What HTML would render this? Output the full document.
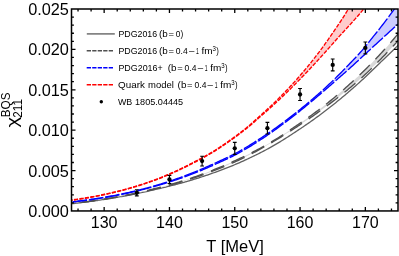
<!DOCTYPE html>
<html><head><meta charset="utf-8"><title>chart</title>
<style>html,body{margin:0;padding:0;background:#fff;}svg{display:block;will-change:transform;opacity:0.999;}text{font-family:"Liberation Sans",sans-serif;fill:#000;}</style></head><body>
<svg width="399" height="256" viewBox="0 0 399 256">
<rect x="0" y="0" width="399" height="256" fill="#fff"/>
<defs><clipPath id="cp"><rect x="71.50" y="9.00" width="326.50" height="201.95"/></clipPath></defs>
<g clip-path="url(#cp)" fill="none" stroke-linecap="butt" stroke-linejoin="round">
<path d="M68.54 204.10 L69.84 203.96 L71.13 203.81 L72.43 203.67 L73.73 203.52 L75.02 203.37 L76.32 203.22 L77.62 203.06 L78.92 202.91 L80.21 202.75 L81.51 202.59 L82.81 202.42 L84.10 202.26 L85.40 202.09 L86.70 201.92 L88.00 201.75 L89.29 201.58 L90.59 201.40 L91.89 201.23 L93.19 201.05 L94.48 200.86 L95.78 200.68 L97.08 200.49 L98.37 200.30 L99.67 200.11 L100.97 199.92 L102.27 199.72 L103.56 199.52 L104.86 199.32 L106.16 199.12 L107.46 198.91 L108.75 198.71 L110.05 198.50 L111.35 198.28 L112.64 198.07 L113.94 197.85 L115.24 197.63 L116.54 197.41 L117.83 197.18 L119.13 196.95 L120.43 196.72 L121.72 196.49 L123.02 196.25 L124.32 196.01 L125.62 195.77 L126.91 195.53 L128.21 195.28 L129.51 195.03 L130.81 194.78 L132.10 194.53 L133.40 194.27 L134.70 194.01 L135.99 193.75 L137.29 193.48 L138.59 193.21 L139.89 192.94 L141.18 192.67 L142.48 192.39 L143.78 192.11 L145.08 191.83 L146.37 191.54 L147.67 191.26 L148.97 190.97 L150.26 190.67 L151.56 190.37 L152.86 190.08 L154.16 189.78 L155.45 189.48 L156.75 189.18 L158.05 188.88 L159.35 188.57 L160.64 188.27 L161.94 187.96 L163.24 187.65 L164.53 187.34 L165.83 187.02 L167.13 186.71 L168.43 186.39 L169.72 186.07 L171.02 185.74 L172.32 185.41 L173.61 185.08 L174.91 184.75 L176.21 184.41 L177.51 184.06 L178.80 183.72 L180.10 183.37 L181.40 183.02 L182.70 182.66 L183.99 182.30 L185.29 181.93 L186.59 181.56 L187.88 181.18 L189.18 180.80 L190.48 180.41 L191.78 180.02 L193.07 179.63 L194.37 179.23 L195.67 178.83 L196.97 178.42 L198.26 178.01 L199.56 177.59 L200.86 177.17 L202.15 176.75 L203.45 176.32 L204.75 175.89 L206.05 175.45 L207.34 175.01 L208.64 174.56 L209.94 174.11 L211.23 173.66 L212.53 173.20 L213.83 172.74 L215.13 172.28 L216.42 171.81 L217.72 171.33 L219.02 170.86 L220.32 170.38 L221.61 169.89 L222.91 169.40 L224.21 168.91 L225.50 168.41 L226.80 167.91 L228.10 167.40 L229.40 166.89 L230.69 166.37 L231.99 165.84 L233.29 165.31 L234.59 164.77 L235.88 164.22 L237.18 163.67 L238.48 163.11 L239.77 162.54 L241.07 161.96 L242.37 161.38 L243.67 160.79 L244.96 160.19 L246.26 159.60 L247.56 158.99 L248.85 158.38 L250.15 157.77 L251.45 157.15 L252.75 156.52 L254.04 155.89 L255.34 155.26 L256.64 154.62 L257.94 153.97 L259.23 153.32 L260.53 152.66 L261.83 151.99 L263.12 151.32 L264.42 150.65 L265.72 149.96 L267.02 149.28 L268.31 148.58 L269.61 147.87 L270.91 147.15 L272.21 146.42 L273.50 145.68 L274.80 144.93 L276.10 144.17 L277.39 143.39 L278.69 142.61 L279.99 141.83 L281.29 141.03 L282.58 140.23 L283.88 139.42 L285.18 138.60 L286.47 137.78 L287.77 136.95 L289.07 136.11 L290.37 135.27 L291.66 134.43 L292.96 133.58 L294.26 132.72 L295.56 131.87 L296.85 131.01 L298.15 130.15 L299.45 129.29 L300.74 128.42 L302.04 127.55 L303.34 126.67 L304.64 125.79 L305.93 124.90 L307.23 124.01 L308.53 123.11 L309.83 122.20 L311.12 121.29 L312.42 120.37 L313.72 119.44 L315.01 118.51 L316.31 117.57 L317.61 116.63 L318.91 115.67 L320.20 114.71 L321.50 113.75 L322.80 112.77 L324.09 111.79 L325.39 110.81 L326.69 109.81 L327.99 108.81 L329.28 107.80 L330.58 106.78 L331.88 105.76 L333.18 104.73 L334.47 103.69 L335.77 102.65 L337.07 101.60 L338.36 100.54 L339.66 99.48 L340.96 98.41 L342.26 97.33 L343.55 96.25 L344.85 95.15 L346.15 94.06 L347.45 92.95 L348.74 91.84 L350.04 90.72 L351.34 89.60 L352.63 88.47 L353.93 87.33 L355.23 86.19 L356.53 85.03 L357.82 83.88 L359.12 82.71 L360.42 81.54 L361.71 80.35 L363.01 79.16 L364.31 77.95 L365.61 76.73 L366.90 75.50 L368.20 74.26 L369.50 73.02 L370.80 71.76 L372.09 70.51 L373.39 69.25 L374.69 67.98 L375.98 66.72 L377.28 65.45 L378.58 64.19 L379.88 62.92 L381.17 61.66 L382.47 60.41 L383.77 59.16 L385.07 57.91 L386.36 56.67 L387.66 55.42 L388.96 54.17 L390.25 52.92 L391.55 51.67 L392.85 50.41 L394.15 49.15 L395.44 47.89 L396.74 46.63 L398.04 45.36 L399.34 44.10 L400.63 42.83 L401.93 41.56 L403.23 40.30 L404.52 39.03" stroke="#606060" stroke-width="1.3"/>
<path d="M68.54 203.82 L69.84 203.68 L71.13 203.54 L72.43 203.39 L73.73 203.25 L75.02 203.10 L76.32 202.95 L77.62 202.79 L78.92 202.64 L80.21 202.48 L81.51 202.32 L82.81 202.16 L84.10 201.99 L85.40 201.82 L86.70 201.65 L88.00 201.48 L89.29 201.31 L90.59 201.13 L91.89 200.95 L93.19 200.76 L94.48 200.58 L95.78 200.39 L97.08 200.20 L98.37 200.01 L99.67 199.81 L100.97 199.61 L102.27 199.41 L103.56 199.20 L104.86 199.00 L106.16 198.78 L107.46 198.57 L108.75 198.36 L110.05 198.14 L111.35 197.91 L112.64 197.69 L113.94 197.46 L115.24 197.23 L116.54 197.00 L117.83 196.76 L119.13 196.52 L120.43 196.27 L121.72 196.03 L123.02 195.78 L124.32 195.52 L125.62 195.27 L126.91 195.01 L128.21 194.75 L129.51 194.48 L130.81 194.21 L132.10 193.94 L133.40 193.66 L134.70 193.38 L135.99 193.10 L137.29 192.81 L138.59 192.52 L139.89 192.23 L141.18 191.93 L142.48 191.63 L143.78 191.33 L145.08 191.02 L146.37 190.71 L147.67 190.40 L148.97 190.08 L150.26 189.75 L151.56 189.43 L152.86 189.10 L154.16 188.78 L155.45 188.45 L156.75 188.12 L158.05 187.78 L159.35 187.45 L160.64 187.11 L161.94 186.77 L163.24 186.42 L164.53 186.08 L165.83 185.73 L167.13 185.37 L168.43 185.02 L169.72 184.66 L171.02 184.29 L172.32 183.93 L173.61 183.56 L174.91 183.18 L176.21 182.80 L177.51 182.42 L178.80 182.03 L180.10 181.64 L181.40 181.24 L182.70 180.84 L183.99 180.44 L185.29 180.02 L186.59 179.61 L187.88 179.19 L189.18 178.76 L190.48 178.33 L191.78 177.89 L193.07 177.45 L194.37 177.00 L195.67 176.55 L196.97 176.09 L198.26 175.63 L199.56 175.17 L200.86 174.70 L202.15 174.22 L203.45 173.74 L204.75 173.26 L206.05 172.77 L207.34 172.28 L208.64 171.78 L209.94 171.28 L211.23 170.78 L212.53 170.27 L213.83 169.75 L215.13 169.23 L216.42 168.71 L217.72 168.18 L219.02 167.65 L220.32 167.11 L221.61 166.57 L222.91 166.02 L224.21 165.47 L225.50 164.92 L226.80 164.36 L228.10 163.79 L229.40 163.22 L230.69 162.65 L231.99 162.07 L233.29 161.48 L234.59 160.89 L235.88 160.30 L237.18 159.70 L238.48 159.09 L239.77 158.48 L241.07 157.86 L242.37 157.24 L243.67 156.62 L244.96 155.99 L246.26 155.36 L247.56 154.72 L248.85 154.08 L250.15 153.43 L251.45 152.78 L252.75 152.12 L254.04 151.45 L255.34 150.78 L256.64 150.11 L257.94 149.42 L259.23 148.74 L260.53 148.04 L261.83 147.34 L263.12 146.63 L264.42 145.92 L265.72 145.19 L267.02 144.46 L268.31 143.73 L269.61 142.98 L270.91 142.21 L272.21 141.44 L273.50 140.66 L274.80 139.87 L276.10 139.07 L277.39 138.26 L278.69 137.45 L279.99 136.62 L281.29 135.79 L282.58 134.95 L283.88 134.11 L285.18 133.26 L286.47 132.40 L287.77 131.54 L289.07 130.68 L290.37 129.81 L291.66 128.93 L292.96 128.05 L294.26 127.17 L295.56 126.29 L296.85 125.40 L298.15 124.52 L299.45 123.63 L300.74 122.74 L302.04 121.84 L303.34 120.95 L304.64 120.04 L305.93 119.13 L307.23 118.21 L308.53 117.29 L309.83 116.37 L311.12 115.43 L312.42 114.49 L313.72 113.55 L315.01 112.60 L316.31 111.64 L317.61 110.67 L318.91 109.70 L320.20 108.72 L321.50 107.73 L322.80 106.74 L324.09 105.74 L325.39 104.73 L326.69 103.71 L327.99 102.69 L329.28 101.65 L330.58 100.61 L331.88 99.56 L333.18 98.50 L334.47 97.43 L335.77 96.35 L337.07 95.25 L338.36 94.15 L339.66 93.04 L340.96 91.92 L342.26 90.80 L343.55 89.66 L344.85 88.52 L346.15 87.36 L347.45 86.20 L348.74 85.03 L350.04 83.86 L351.34 82.67 L352.63 81.48 L353.93 80.28 L355.23 79.08 L356.53 77.87 L357.82 76.65 L359.12 75.43 L360.42 74.20 L361.71 72.96 L363.01 71.71 L364.31 70.45 L365.61 69.18 L366.90 67.90 L368.20 66.61 L369.50 65.31 L370.80 64.00 L372.09 62.68 L373.39 61.35 L374.69 60.01 L375.98 58.66 L377.28 57.30 L378.58 55.92 L379.88 54.53 L381.17 53.14 L382.47 51.73 L383.77 50.30 L385.07 48.87 L386.36 47.42 L387.66 45.97 L388.96 44.49 L390.25 43.01 L391.55 41.51 L392.85 40.00 L394.15 38.48 L395.44 36.94 L396.74 35.39 L398.04 33.82 L399.34 32.24 L400.63 30.64 L401.93 29.03 L403.23 27.40 L404.52 25.76 L404.52 33.22 L403.23 34.74 L401.93 36.25 L400.63 37.74 L399.34 39.22 L398.04 40.69 L396.74 42.14 L395.44 43.58 L394.15 45.01 L392.85 46.42 L391.55 47.83 L390.25 49.22 L388.96 50.59 L387.66 51.96 L386.36 53.31 L385.07 54.66 L383.77 55.99 L382.47 57.32 L381.17 58.66 L379.88 59.98 L378.58 61.31 L377.28 62.63 L375.98 63.94 L374.69 65.24 L373.39 66.54 L372.09 67.83 L370.80 69.11 L369.50 70.37 L368.20 71.63 L366.90 72.87 L365.61 74.10 L364.31 75.31 L363.01 76.51 L361.71 77.69 L360.42 78.85 L359.12 80.00 L357.82 81.14 L356.53 82.26 L355.23 83.38 L353.93 84.49 L352.63 85.59 L351.34 86.68 L350.04 87.76 L348.74 88.83 L347.45 89.90 L346.15 90.96 L344.85 92.01 L343.55 93.05 L342.26 94.09 L340.96 95.12 L339.66 96.14 L338.36 97.16 L337.07 98.17 L335.77 99.17 L334.47 100.17 L333.18 101.16 L331.88 102.15 L330.58 103.13 L329.28 104.11 L327.99 105.08 L326.69 106.05 L325.39 107.01 L324.09 107.97 L322.80 108.92 L321.50 109.87 L320.20 110.81 L318.91 111.74 L317.61 112.67 L316.31 113.60 L315.01 114.52 L313.72 115.43 L312.42 116.34 L311.12 117.25 L309.83 118.14 L308.53 119.04 L307.23 119.93 L305.93 120.81 L304.64 121.69 L303.34 122.56 L302.04 123.42 L300.74 124.29 L299.45 125.14 L298.15 126.00 L296.85 126.85 L295.56 127.70 L294.26 128.54 L292.96 129.39 L291.66 130.23 L290.37 131.06 L289.07 131.90 L287.77 132.72 L286.47 133.55 L285.18 134.37 L283.88 135.19 L282.58 136.00 L281.29 136.81 L279.99 137.61 L278.69 138.41 L277.39 139.20 L276.10 139.99 L274.80 140.77 L273.50 141.54 L272.21 142.31 L270.91 143.07 L269.61 143.83 L268.31 144.58 L267.02 145.32 L265.72 146.05 L264.42 146.79 L263.12 147.51 L261.83 148.24 L260.53 148.96 L259.23 149.67 L257.94 150.38 L256.64 151.09 L255.34 151.79 L254.04 152.48 L252.75 153.17 L251.45 153.85 L250.15 154.53 L248.85 155.20 L247.56 155.86 L246.26 156.51 L244.96 157.16 L243.67 157.80 L242.37 158.43 L241.07 159.06 L239.77 159.67 L238.48 160.28 L237.18 160.88 L235.88 161.47 L234.59 162.06 L233.29 162.64 L231.99 163.21 L230.69 163.78 L229.40 164.34 L228.10 164.89 L226.80 165.44 L225.50 165.99 L224.21 166.53 L222.91 167.06 L221.61 167.59 L220.32 168.12 L219.02 168.64 L217.72 169.16 L216.42 169.67 L215.13 170.18 L213.83 170.69 L212.53 171.19 L211.23 171.69 L209.94 172.19 L208.64 172.68 L207.34 173.16 L206.05 173.65 L204.75 174.12 L203.45 174.60 L202.15 175.07 L200.86 175.53 L199.56 175.99 L198.26 176.44 L196.97 176.89 L195.67 177.34 L194.37 177.78 L193.07 178.22 L191.78 178.65 L190.48 179.08 L189.18 179.50 L187.88 179.92 L186.59 180.33 L185.29 180.74 L183.99 181.14 L182.70 181.54 L181.40 181.93 L180.10 182.32 L178.80 182.70 L177.51 183.08 L176.21 183.45 L174.91 183.82 L173.61 184.19 L172.32 184.55 L171.02 184.91 L169.72 185.26 L168.43 185.61 L167.13 185.96 L165.83 186.30 L164.53 186.64 L163.24 186.98 L161.94 187.32 L160.64 187.65 L159.35 187.98 L158.05 188.31 L156.75 188.63 L155.45 188.95 L154.16 189.28 L152.86 189.59 L151.56 189.91 L150.26 190.23 L148.97 190.54 L147.67 190.85 L146.37 191.16 L145.08 191.46 L143.78 191.76 L142.48 192.05 L141.18 192.34 L139.89 192.63 L138.59 192.92 L137.29 193.20 L135.99 193.48 L134.70 193.75 L133.40 194.02 L132.10 194.29 L130.81 194.55 L129.51 194.81 L128.21 195.07 L126.91 195.33 L125.62 195.58 L124.32 195.83 L123.02 196.07 L121.72 196.31 L120.43 196.55 L119.13 196.79 L117.83 197.02 L116.54 197.25 L115.24 197.47 L113.94 197.70 L112.64 197.92 L111.35 198.14 L110.05 198.35 L108.75 198.56 L107.46 198.77 L106.16 198.98 L104.86 199.18 L103.56 199.38 L102.27 199.58 L100.97 199.77 L99.67 199.96 L98.37 200.15 L97.08 200.34 L95.78 200.52 L94.48 200.70 L93.19 200.88 L91.89 201.06 L90.59 201.23 L89.29 201.40 L88.00 201.57 L86.70 201.73 L85.40 201.90 L84.10 202.06 L82.81 202.22 L81.51 202.37 L80.21 202.53 L78.92 202.68 L77.62 202.83 L76.32 202.97 L75.02 203.12 L73.73 203.26 L72.43 203.40 L71.13 203.54 L69.84 203.67 L68.54 203.81 Z" fill="#d9d9d9" stroke="none"/>
<path d="M68.54 203.82 L69.84 203.68 L71.13 203.54 L72.43 203.39 L73.73 203.25 L75.02 203.10 L76.32 202.95 L77.62 202.79 L78.92 202.64 L80.21 202.48 L81.51 202.32 L82.81 202.16 L84.10 201.99 L85.40 201.82 L86.70 201.65 L88.00 201.48 L89.29 201.31 L90.59 201.13 L91.89 200.95 L93.19 200.76 L94.48 200.58 L95.78 200.39 L97.08 200.20 L98.37 200.01 L99.67 199.81 L100.97 199.61 L102.27 199.41 L103.56 199.20 L104.86 199.00 L106.16 198.78 L107.46 198.57 L108.75 198.36 L110.05 198.14 L111.35 197.91 L112.64 197.69 L113.94 197.46 L115.24 197.23 L116.54 197.00 L117.83 196.76 L119.13 196.52 L120.43 196.27 L121.72 196.03 L123.02 195.78 L124.32 195.52 L125.62 195.27 L126.91 195.01 L128.21 194.75 L129.51 194.48 L130.81 194.21 L132.10 193.94 L133.40 193.66 L134.70 193.38 L135.99 193.10 L137.29 192.81 L138.59 192.52 L139.89 192.23 L141.18 191.93 L142.48 191.63 L143.78 191.33 L145.08 191.02 L146.37 190.71 L147.67 190.40 L148.97 190.08 L150.26 189.75 L151.56 189.43 L152.86 189.10 L154.16 188.78 L155.45 188.45 L156.75 188.12 L158.05 187.78 L159.35 187.45 L160.64 187.11 L161.94 186.77 L163.24 186.42 L164.53 186.08 L165.83 185.73 L167.13 185.37 L168.43 185.02 L169.72 184.66 L171.02 184.29 L172.32 183.93 L173.61 183.56 L174.91 183.18 L176.21 182.80 L177.51 182.42 L178.80 182.03 L180.10 181.64 L181.40 181.24 L182.70 180.84 L183.99 180.44 L185.29 180.02 L186.59 179.61 L187.88 179.19 L189.18 178.76 L190.48 178.33 L191.78 177.89 L193.07 177.45 L194.37 177.00 L195.67 176.55 L196.97 176.09 L198.26 175.63 L199.56 175.17 L200.86 174.70 L202.15 174.22 L203.45 173.74 L204.75 173.26 L206.05 172.77 L207.34 172.28 L208.64 171.78 L209.94 171.28 L211.23 170.78 L212.53 170.27 L213.83 169.75 L215.13 169.23 L216.42 168.71 L217.72 168.18 L219.02 167.65 L220.32 167.11 L221.61 166.57 L222.91 166.02 L224.21 165.47 L225.50 164.92 L226.80 164.36 L228.10 163.79 L229.40 163.22 L230.69 162.65 L231.99 162.07 L233.29 161.48 L234.59 160.89 L235.88 160.30 L237.18 159.70 L238.48 159.09 L239.77 158.48 L241.07 157.86 L242.37 157.24 L243.67 156.62 L244.96 155.99 L246.26 155.36 L247.56 154.72 L248.85 154.08 L250.15 153.43 L251.45 152.78 L252.75 152.12 L254.04 151.45 L255.34 150.78 L256.64 150.11 L257.94 149.42 L259.23 148.74 L260.53 148.04 L261.83 147.34 L263.12 146.63 L264.42 145.92 L265.72 145.19 L267.02 144.46 L268.31 143.73 L269.61 142.98 L270.91 142.21 L272.21 141.44 L273.50 140.66 L274.80 139.87 L276.10 139.07 L277.39 138.26 L278.69 137.45 L279.99 136.62 L281.29 135.79 L282.58 134.95 L283.88 134.11 L285.18 133.26 L286.47 132.40 L287.77 131.54 L289.07 130.68 L290.37 129.81 L291.66 128.93 L292.96 128.05 L294.26 127.17 L295.56 126.29 L296.85 125.40 L298.15 124.52 L299.45 123.63 L300.74 122.74 L302.04 121.84 L303.34 120.95 L304.64 120.04 L305.93 119.13 L307.23 118.21 L308.53 117.29 L309.83 116.37 L311.12 115.43 L312.42 114.49 L313.72 113.55 L315.01 112.60 L316.31 111.64 L317.61 110.67 L318.91 109.70 L320.20 108.72 L321.50 107.73 L322.80 106.74 L324.09 105.74 L325.39 104.73 L326.69 103.71 L327.99 102.69 L329.28 101.65 L330.58 100.61 L331.88 99.56 L333.18 98.50 L334.47 97.43 L335.77 96.35 L337.07 95.25 L338.36 94.15 L339.66 93.04 L340.96 91.92 L342.26 90.80 L343.55 89.66 L344.85 88.52 L346.15 87.36 L347.45 86.20 L348.74 85.03 L350.04 83.86 L351.34 82.67 L352.63 81.48 L353.93 80.28 L355.23 79.08 L356.53 77.87 L357.82 76.65 L359.12 75.43 L360.42 74.20 L361.71 72.96 L363.01 71.71 L364.31 70.45 L365.61 69.18 L366.90 67.90 L368.20 66.61 L369.50 65.31 L370.80 64.00 L372.09 62.68 L373.39 61.35 L374.69 60.01 L375.98 58.66 L377.28 57.30 L378.58 55.92 L379.88 54.53 L381.17 53.14 L382.47 51.73 L383.77 50.30 L385.07 48.87 L386.36 47.42 L387.66 45.97 L388.96 44.49 L390.25 43.01 L391.55 41.51 L392.85 40.00 L394.15 38.48 L395.44 36.94 L396.74 35.39 L398.04 33.82 L399.34 32.24 L400.63 30.64 L401.93 29.03 L403.23 27.40 L404.52 25.76" stroke="#505050" stroke-width="1.35" stroke-dasharray="14.2 8.06" stroke-dashoffset="9.26"/>
<path d="M68.54 203.81 L69.84 203.67 L71.13 203.54 L72.43 203.40 L73.73 203.26 L75.02 203.12 L76.32 202.97 L77.62 202.83 L78.92 202.68 L80.21 202.53 L81.51 202.37 L82.81 202.22 L84.10 202.06 L85.40 201.90 L86.70 201.73 L88.00 201.57 L89.29 201.40 L90.59 201.23 L91.89 201.06 L93.19 200.88 L94.48 200.70 L95.78 200.52 L97.08 200.34 L98.37 200.15 L99.67 199.96 L100.97 199.77 L102.27 199.58 L103.56 199.38 L104.86 199.18 L106.16 198.98 L107.46 198.77 L108.75 198.56 L110.05 198.35 L111.35 198.14 L112.64 197.92 L113.94 197.70 L115.24 197.47 L116.54 197.25 L117.83 197.02 L119.13 196.79 L120.43 196.55 L121.72 196.31 L123.02 196.07 L124.32 195.83 L125.62 195.58 L126.91 195.33 L128.21 195.07 L129.51 194.81 L130.81 194.55 L132.10 194.29 L133.40 194.02 L134.70 193.75 L135.99 193.48 L137.29 193.20 L138.59 192.92 L139.89 192.63 L141.18 192.34 L142.48 192.05 L143.78 191.76 L145.08 191.46 L146.37 191.16 L147.67 190.85 L148.97 190.54 L150.26 190.23 L151.56 189.91 L152.86 189.59 L154.16 189.28 L155.45 188.95 L156.75 188.63 L158.05 188.31 L159.35 187.98 L160.64 187.65 L161.94 187.32 L163.24 186.98 L164.53 186.64 L165.83 186.30 L167.13 185.96 L168.43 185.61 L169.72 185.26 L171.02 184.91 L172.32 184.55 L173.61 184.19 L174.91 183.82 L176.21 183.45 L177.51 183.08 L178.80 182.70 L180.10 182.32 L181.40 181.93 L182.70 181.54 L183.99 181.14 L185.29 180.74 L186.59 180.33 L187.88 179.92 L189.18 179.50 L190.48 179.08 L191.78 178.65 L193.07 178.22 L194.37 177.78 L195.67 177.34 L196.97 176.89 L198.26 176.44 L199.56 175.99 L200.86 175.53 L202.15 175.07 L203.45 174.60 L204.75 174.12 L206.05 173.65 L207.34 173.16 L208.64 172.68 L209.94 172.19 L211.23 171.69 L212.53 171.19 L213.83 170.69 L215.13 170.18 L216.42 169.67 L217.72 169.16 L219.02 168.64 L220.32 168.12 L221.61 167.59 L222.91 167.06 L224.21 166.53 L225.50 165.99 L226.80 165.44 L228.10 164.89 L229.40 164.34 L230.69 163.78 L231.99 163.21 L233.29 162.64 L234.59 162.06 L235.88 161.47 L237.18 160.88 L238.48 160.28 L239.77 159.67 L241.07 159.06 L242.37 158.43 L243.67 157.80 L244.96 157.16 L246.26 156.51 L247.56 155.86 L248.85 155.20 L250.15 154.53 L251.45 153.85 L252.75 153.17 L254.04 152.48 L255.34 151.79 L256.64 151.09 L257.94 150.38 L259.23 149.67 L260.53 148.96 L261.83 148.24 L263.12 147.51 L264.42 146.79 L265.72 146.05 L267.02 145.32 L268.31 144.58 L269.61 143.83 L270.91 143.07 L272.21 142.31 L273.50 141.54 L274.80 140.77 L276.10 139.99 L277.39 139.20 L278.69 138.41 L279.99 137.61 L281.29 136.81 L282.58 136.00 L283.88 135.19 L285.18 134.37 L286.47 133.55 L287.77 132.72 L289.07 131.90 L290.37 131.06 L291.66 130.23 L292.96 129.39 L294.26 128.54 L295.56 127.70 L296.85 126.85 L298.15 126.00 L299.45 125.14 L300.74 124.29 L302.04 123.42 L303.34 122.56 L304.64 121.69 L305.93 120.81 L307.23 119.93 L308.53 119.04 L309.83 118.14 L311.12 117.25 L312.42 116.34 L313.72 115.43 L315.01 114.52 L316.31 113.60 L317.61 112.67 L318.91 111.74 L320.20 110.81 L321.50 109.87 L322.80 108.92 L324.09 107.97 L325.39 107.01 L326.69 106.05 L327.99 105.08 L329.28 104.11 L330.58 103.13 L331.88 102.15 L333.18 101.16 L334.47 100.17 L335.77 99.17 L337.07 98.17 L338.36 97.16 L339.66 96.14 L340.96 95.12 L342.26 94.09 L343.55 93.05 L344.85 92.01 L346.15 90.96 L347.45 89.90 L348.74 88.83 L350.04 87.76 L351.34 86.68 L352.63 85.59 L353.93 84.49 L355.23 83.38 L356.53 82.26 L357.82 81.14 L359.12 80.00 L360.42 78.85 L361.71 77.69 L363.01 76.51 L364.31 75.31 L365.61 74.10 L366.90 72.87 L368.20 71.63 L369.50 70.37 L370.80 69.11 L372.09 67.83 L373.39 66.54 L374.69 65.24 L375.98 63.94 L377.28 62.63 L378.58 61.31 L379.88 59.98 L381.17 58.66 L382.47 57.32 L383.77 55.99 L385.07 54.66 L386.36 53.31 L387.66 51.96 L388.96 50.59 L390.25 49.22 L391.55 47.83 L392.85 46.42 L394.15 45.01 L395.44 43.58 L396.74 42.14 L398.04 40.69 L399.34 39.22 L400.63 37.74 L401.93 36.25 L403.23 34.74 L404.52 33.22" stroke="#505050" stroke-width="1.35" stroke-dasharray="14.2 8.06" stroke-dashoffset="9.26"/>
<path d="M68.54 202.25 L69.84 202.10 L71.13 201.95 L72.43 201.80 L73.73 201.65 L75.02 201.49 L76.32 201.34 L77.62 201.18 L78.92 201.02 L80.21 200.86 L81.51 200.69 L82.81 200.52 L84.10 200.35 L85.40 200.17 L86.70 200.00 L88.00 199.81 L89.29 199.63 L90.59 199.44 L91.89 199.26 L93.19 199.06 L94.48 198.87 L95.78 198.67 L97.08 198.47 L98.37 198.26 L99.67 198.05 L100.97 197.84 L102.27 197.63 L103.56 197.41 L104.86 197.19 L106.16 196.96 L107.46 196.74 L108.75 196.50 L110.05 196.27 L111.35 196.03 L112.64 195.79 L113.94 195.54 L115.24 195.29 L116.54 195.04 L117.83 194.78 L119.13 194.52 L120.43 194.26 L121.72 193.99 L123.02 193.72 L124.32 193.44 L125.62 193.16 L126.91 192.88 L128.21 192.59 L129.51 192.30 L130.81 192.00 L132.10 191.70 L133.40 191.40 L134.70 191.09 L135.99 190.78 L137.29 190.47 L138.59 190.15 L139.89 189.82 L141.18 189.49 L142.48 189.16 L143.78 188.83 L145.08 188.48 L146.37 188.14 L147.67 187.79 L148.97 187.44 L150.26 187.08 L151.56 186.71 L152.86 186.35 L154.16 185.98 L155.45 185.60 L156.75 185.22 L158.05 184.83 L159.35 184.44 L160.64 184.05 L161.94 183.65 L163.24 183.25 L164.53 182.84 L165.83 182.43 L167.13 182.01 L168.43 181.59 L169.72 181.16 L171.02 180.73 L172.32 180.29 L173.61 179.85 L174.91 179.40 L176.21 178.95 L177.51 178.49 L178.80 178.03 L180.10 177.57 L181.40 177.09 L182.70 176.62 L183.99 176.14 L185.29 175.65 L186.59 175.16 L187.88 174.66 L189.18 174.16 L190.48 173.65 L191.78 173.14 L193.07 172.62 L194.37 172.10 L195.67 171.57 L196.97 171.04 L198.26 170.51 L199.56 169.97 L200.86 169.42 L202.15 168.87 L203.45 168.32 L204.75 167.76 L206.05 167.19 L207.34 166.62 L208.64 166.05 L209.94 165.47 L211.23 164.89 L212.53 164.30 L213.83 163.70 L215.13 163.10 L216.42 162.51 L217.72 161.91 L219.02 161.31 L220.32 160.72 L221.61 160.13 L222.91 159.53 L224.21 158.93 L225.50 158.32 L226.80 157.71 L228.10 157.10 L229.40 156.47 L230.69 155.84 L231.99 155.20 L233.29 154.54 L234.59 153.88 L235.88 153.20 L237.18 152.50 L238.48 151.79 L239.77 151.06 L241.07 150.32 L242.37 149.57 L243.67 148.82 L244.96 148.05 L246.26 147.28 L247.56 146.50 L248.85 145.71 L250.15 144.92 L251.45 144.12 L252.75 143.31 L254.04 142.50 L255.34 141.67 L256.64 140.85 L257.94 140.01 L259.23 139.17 L260.53 138.33 L261.83 137.47 L263.12 136.61 L264.42 135.75 L265.72 134.88 L267.02 134.00 L268.31 133.12 L269.61 132.23 L270.91 131.34 L272.21 130.43 L273.50 129.53 L274.80 128.61 L276.10 127.69 L277.39 126.76 L278.69 125.83 L279.99 124.88 L281.29 123.94 L282.58 122.98 L283.88 122.02 L285.18 121.06 L286.47 120.08 L287.77 119.10 L289.07 118.12 L290.37 117.13 L291.66 116.13 L292.96 115.12 L294.26 114.11 L295.56 113.09 L296.85 112.07 L298.15 111.03 L299.45 109.99 L300.74 108.95 L302.04 107.90 L303.34 106.84 L304.64 105.77 L305.93 104.70 L307.23 103.62 L308.53 102.53 L309.83 101.44 L311.12 100.33 L312.42 99.22 L313.72 98.11 L315.01 96.98 L316.31 95.85 L317.61 94.71 L318.91 93.56 L320.20 92.41 L321.50 91.24 L322.80 90.07 L324.09 88.89 L325.39 87.70 L326.69 86.51 L327.99 85.30 L329.28 84.09 L330.58 82.87 L331.88 81.63 L333.18 80.39 L334.47 79.14 L335.77 77.88 L337.07 76.60 L338.36 75.31 L339.66 74.00 L340.96 72.68 L342.26 71.35 L343.55 70.02 L344.85 68.68 L346.15 67.34 L347.45 66.00 L348.74 64.66 L350.04 63.32 L351.34 61.98 L352.63 60.64 L353.93 59.29 L355.23 57.92 L356.53 56.55 L357.82 55.16 L359.12 53.75 L360.42 52.31 L361.71 50.84 L363.01 49.32 L364.31 47.76 L365.61 46.18 L366.90 44.57 L368.20 42.95 L369.50 41.32 L370.80 39.69 L372.09 38.05 L373.39 36.43 L374.69 34.82 L375.98 33.22 L377.28 31.61 L378.58 29.99 L379.88 28.35 L381.17 26.70 L382.47 25.03 L383.77 23.35 L385.07 21.65 L386.36 19.94 L387.66 18.21 L388.96 16.47 L390.25 14.71 L391.55 12.94 L392.85 11.15 L394.15 9.34 L395.44 7.51 L396.74 5.67 L398.04 3.80 L399.34 1.92 L400.63 0.02 L401.93 -1.90 L403.23 -3.84 L404.52 -5.80 L404.52 18.49 L403.23 19.61 L401.93 20.74 L400.63 21.87 L399.34 23.01 L398.04 24.16 L396.74 25.31 L395.44 26.46 L394.15 27.62 L392.85 28.78 L391.55 29.95 L390.25 31.11 L388.96 32.29 L387.66 33.46 L386.36 34.64 L385.07 35.82 L383.77 37.01 L382.47 38.19 L381.17 39.38 L379.88 40.57 L378.58 41.76 L377.28 42.95 L375.98 44.15 L374.69 45.34 L373.39 46.54 L372.09 47.74 L370.80 48.93 L369.50 50.13 L368.20 51.33 L366.90 52.53 L365.61 53.73 L364.31 54.92 L363.01 56.12 L361.71 57.32 L360.42 58.51 L359.12 59.71 L357.82 60.90 L356.53 62.09 L355.23 63.29 L353.93 64.48 L352.63 65.66 L351.34 66.85 L350.04 68.03 L348.74 69.22 L347.45 70.39 L346.15 71.56 L344.85 72.70 L343.55 73.84 L342.26 74.96 L340.96 76.08 L339.66 77.20 L338.36 78.33 L337.07 79.45 L335.77 80.59 L334.47 81.74 L333.18 82.88 L331.88 84.02 L330.58 85.16 L329.28 86.30 L327.99 87.43 L326.69 88.55 L325.39 89.68 L324.09 90.79 L322.80 91.91 L321.50 93.02 L320.20 94.12 L318.91 95.22 L317.61 96.32 L316.31 97.42 L315.01 98.52 L313.72 99.61 L312.42 100.70 L311.12 101.79 L309.83 102.88 L308.53 103.96 L307.23 105.03 L305.93 106.10 L304.64 107.17 L303.34 108.22 L302.04 109.28 L300.74 110.32 L299.45 111.36 L298.15 112.39 L296.85 113.42 L295.56 114.43 L294.26 115.45 L292.96 116.46 L291.66 117.46 L290.37 118.46 L289.07 119.45 L287.77 120.43 L286.47 121.41 L285.18 122.39 L283.88 123.36 L282.58 124.32 L281.29 125.28 L279.99 126.24 L278.69 127.19 L277.39 128.14 L276.10 129.08 L274.80 130.01 L273.50 130.94 L272.21 131.85 L270.91 132.77 L269.61 133.67 L268.31 134.56 L267.02 135.45 L265.72 136.33 L264.42 137.20 L263.12 138.07 L261.83 138.93 L260.53 139.78 L259.23 140.63 L257.94 141.47 L256.64 142.31 L255.34 143.13 L254.04 143.95 L252.75 144.76 L251.45 145.57 L250.15 146.36 L248.85 147.15 L247.56 147.94 L246.26 148.71 L244.96 149.47 L243.67 150.23 L242.37 150.98 L241.07 151.72 L239.77 152.45 L238.48 153.17 L237.18 153.87 L235.88 154.55 L234.59 155.22 L233.29 155.88 L231.99 156.53 L230.69 157.16 L229.40 157.79 L228.10 158.41 L226.80 159.02 L225.50 159.62 L224.21 160.22 L222.91 160.81 L221.61 161.40 L220.32 161.99 L219.02 162.57 L217.72 163.16 L216.42 163.75 L215.13 164.34 L213.83 164.93 L212.53 165.51 L211.23 166.09 L209.94 166.67 L208.64 167.24 L207.34 167.80 L206.05 168.36 L204.75 168.92 L203.45 169.46 L202.15 170.01 L200.86 170.55 L199.56 171.08 L198.26 171.61 L196.97 172.13 L195.67 172.65 L194.37 173.16 L193.07 173.67 L191.78 174.17 L190.48 174.66 L189.18 175.16 L187.88 175.64 L186.59 176.12 L185.29 176.60 L183.99 177.07 L182.70 177.53 L181.40 177.99 L180.10 178.44 L178.80 178.89 L177.51 179.34 L176.21 179.77 L174.91 180.21 L173.61 180.64 L172.32 181.06 L171.02 181.48 L169.72 181.90 L168.43 182.31 L167.13 182.71 L165.83 183.11 L164.53 183.51 L163.24 183.90 L161.94 184.29 L160.64 184.68 L159.35 185.05 L158.05 185.43 L156.75 185.80 L155.45 186.17 L154.16 186.53 L152.86 186.89 L151.56 187.24 L150.26 187.60 L148.97 187.94 L147.67 188.29 L146.37 188.63 L145.08 188.96 L143.78 189.29 L142.48 189.62 L141.18 189.94 L139.89 190.26 L138.59 190.58 L137.29 190.89 L135.99 191.20 L134.70 191.51 L133.40 191.81 L132.10 192.10 L130.81 192.40 L129.51 192.69 L128.21 192.97 L126.91 193.25 L125.62 193.53 L124.32 193.81 L123.02 194.08 L121.72 194.35 L120.43 194.61 L119.13 194.87 L117.83 195.13 L116.54 195.38 L115.24 195.63 L113.94 195.87 L112.64 196.11 L111.35 196.35 L110.05 196.59 L108.75 196.82 L107.46 197.05 L106.16 197.27 L104.86 197.49 L103.56 197.71 L102.27 197.92 L100.97 198.14 L99.67 198.34 L98.37 198.55 L97.08 198.75 L95.78 198.95 L94.48 199.14 L93.19 199.34 L91.89 199.53 L90.59 199.71 L89.29 199.90 L88.00 200.08 L86.70 200.25 L85.40 200.43 L84.10 200.60 L82.81 200.77 L81.51 200.94 L80.21 201.10 L78.92 201.26 L77.62 201.42 L76.32 201.58 L75.02 201.73 L73.73 201.88 L72.43 202.03 L71.13 202.18 L69.84 202.33 L68.54 202.48 Z" fill="#ccccff" stroke="none"/>
<path d="M68.54 202.25 L69.84 202.10 L71.13 201.95 L72.43 201.80 L73.73 201.65 L75.02 201.49 L76.32 201.34 L77.62 201.18 L78.92 201.02 L80.21 200.86 L81.51 200.69 L82.81 200.52 L84.10 200.35 L85.40 200.17 L86.70 200.00 L88.00 199.81 L89.29 199.63 L90.59 199.44 L91.89 199.26 L93.19 199.06 L94.48 198.87 L95.78 198.67 L97.08 198.47 L98.37 198.26 L99.67 198.05 L100.97 197.84 L102.27 197.63 L103.56 197.41 L104.86 197.19 L106.16 196.96 L107.46 196.74 L108.75 196.50 L110.05 196.27 L111.35 196.03 L112.64 195.79 L113.94 195.54 L115.24 195.29 L116.54 195.04 L117.83 194.78 L119.13 194.52 L120.43 194.26 L121.72 193.99 L123.02 193.72 L124.32 193.44 L125.62 193.16 L126.91 192.88 L128.21 192.59 L129.51 192.30 L130.81 192.00 L132.10 191.70 L133.40 191.40 L134.70 191.09 L135.99 190.78 L137.29 190.47 L138.59 190.15 L139.89 189.82 L141.18 189.49 L142.48 189.16 L143.78 188.83 L145.08 188.48 L146.37 188.14 L147.67 187.79 L148.97 187.44 L150.26 187.08 L151.56 186.71 L152.86 186.35 L154.16 185.98 L155.45 185.60 L156.75 185.22 L158.05 184.83 L159.35 184.44 L160.64 184.05 L161.94 183.65 L163.24 183.25 L164.53 182.84 L165.83 182.43 L167.13 182.01 L168.43 181.59 L169.72 181.16 L171.02 180.73 L172.32 180.29 L173.61 179.85 L174.91 179.40 L176.21 178.95 L177.51 178.49 L178.80 178.03 L180.10 177.57 L181.40 177.09 L182.70 176.62 L183.99 176.14 L185.29 175.65 L186.59 175.16 L187.88 174.66 L189.18 174.16 L190.48 173.65 L191.78 173.14 L193.07 172.62 L194.37 172.10 L195.67 171.57 L196.97 171.04 L198.26 170.51 L199.56 169.97 L200.86 169.42 L202.15 168.87 L203.45 168.32 L204.75 167.76 L206.05 167.19 L207.34 166.62 L208.64 166.05 L209.94 165.47 L211.23 164.89 L212.53 164.30 L213.83 163.70 L215.13 163.10 L216.42 162.51 L217.72 161.91 L219.02 161.31 L220.32 160.72 L221.61 160.13 L222.91 159.53 L224.21 158.93 L225.50 158.32 L226.80 157.71 L228.10 157.10 L229.40 156.47 L230.69 155.84 L231.99 155.20 L233.29 154.54 L234.59 153.88 L235.88 153.20 L237.18 152.50 L238.48 151.79 L239.77 151.06 L241.07 150.32 L242.37 149.57 L243.67 148.82 L244.96 148.05 L246.26 147.28 L247.56 146.50 L248.85 145.71 L250.15 144.92 L251.45 144.12 L252.75 143.31 L254.04 142.50 L255.34 141.67 L256.64 140.85 L257.94 140.01 L259.23 139.17 L260.53 138.33 L261.83 137.47 L263.12 136.61 L264.42 135.75 L265.72 134.88 L267.02 134.00 L268.31 133.12 L269.61 132.23 L270.91 131.34 L272.21 130.43 L273.50 129.53 L274.80 128.61 L276.10 127.69 L277.39 126.76 L278.69 125.83 L279.99 124.88 L281.29 123.94 L282.58 122.98 L283.88 122.02 L285.18 121.06 L286.47 120.08 L287.77 119.10 L289.07 118.12 L290.37 117.13 L291.66 116.13 L292.96 115.12 L294.26 114.11 L295.56 113.09 L296.85 112.07 L298.15 111.03 L299.45 109.99 L300.74 108.95 L302.04 107.90 L303.34 106.84 L304.64 105.77 L305.93 104.70 L307.23 103.62 L308.53 102.53 L309.83 101.44 L311.12 100.33 L312.42 99.22 L313.72 98.11 L315.01 96.98 L316.31 95.85 L317.61 94.71 L318.91 93.56 L320.20 92.41 L321.50 91.24 L322.80 90.07 L324.09 88.89 L325.39 87.70 L326.69 86.51 L327.99 85.30 L329.28 84.09 L330.58 82.87 L331.88 81.63 L333.18 80.39 L334.47 79.14 L335.77 77.88 L337.07 76.60 L338.36 75.31 L339.66 74.00 L340.96 72.68 L342.26 71.35 L343.55 70.02 L344.85 68.68 L346.15 67.34 L347.45 66.00 L348.74 64.66 L350.04 63.32 L351.34 61.98 L352.63 60.64 L353.93 59.29 L355.23 57.92 L356.53 56.55 L357.82 55.16 L359.12 53.75 L360.42 52.31 L361.71 50.84 L363.01 49.32 L364.31 47.76 L365.61 46.18 L366.90 44.57 L368.20 42.95 L369.50 41.32 L370.80 39.69 L372.09 38.05 L373.39 36.43 L374.69 34.82 L375.98 33.22 L377.28 31.61 L378.58 29.99 L379.88 28.35 L381.17 26.70 L382.47 25.03 L383.77 23.35 L385.07 21.65 L386.36 19.94 L387.66 18.21 L388.96 16.47 L390.25 14.71 L391.55 12.94 L392.85 11.15 L394.15 9.34 L395.44 7.51 L396.74 5.67 L398.04 3.80 L399.34 1.92 L400.63 0.02 L401.93 -1.90 L403.23 -3.84 L404.52 -5.80" stroke="#0000ff" stroke-width="1.35" stroke-dasharray="14.41 2" stroke-dashoffset="12.21"/>
<path d="M68.54 202.48 L69.84 202.33 L71.13 202.18 L72.43 202.03 L73.73 201.88 L75.02 201.73 L76.32 201.58 L77.62 201.42 L78.92 201.26 L80.21 201.10 L81.51 200.94 L82.81 200.77 L84.10 200.60 L85.40 200.43 L86.70 200.25 L88.00 200.08 L89.29 199.90 L90.59 199.71 L91.89 199.53 L93.19 199.34 L94.48 199.14 L95.78 198.95 L97.08 198.75 L98.37 198.55 L99.67 198.34 L100.97 198.14 L102.27 197.92 L103.56 197.71 L104.86 197.49 L106.16 197.27 L107.46 197.05 L108.75 196.82 L110.05 196.59 L111.35 196.35 L112.64 196.11 L113.94 195.87 L115.24 195.63 L116.54 195.38 L117.83 195.13 L119.13 194.87 L120.43 194.61 L121.72 194.35 L123.02 194.08 L124.32 193.81 L125.62 193.53 L126.91 193.25 L128.21 192.97 L129.51 192.69 L130.81 192.40 L132.10 192.10 L133.40 191.81 L134.70 191.51 L135.99 191.20 L137.29 190.89 L138.59 190.58 L139.89 190.26 L141.18 189.94 L142.48 189.62 L143.78 189.29 L145.08 188.96 L146.37 188.63 L147.67 188.29 L148.97 187.94 L150.26 187.60 L151.56 187.24 L152.86 186.89 L154.16 186.53 L155.45 186.17 L156.75 185.80 L158.05 185.43 L159.35 185.05 L160.64 184.68 L161.94 184.29 L163.24 183.90 L164.53 183.51 L165.83 183.11 L167.13 182.71 L168.43 182.31 L169.72 181.90 L171.02 181.48 L172.32 181.06 L173.61 180.64 L174.91 180.21 L176.21 179.77 L177.51 179.34 L178.80 178.89 L180.10 178.44 L181.40 177.99 L182.70 177.53 L183.99 177.07 L185.29 176.60 L186.59 176.12 L187.88 175.64 L189.18 175.16 L190.48 174.66 L191.78 174.17 L193.07 173.67 L194.37 173.16 L195.67 172.65 L196.97 172.13 L198.26 171.61 L199.56 171.08 L200.86 170.55 L202.15 170.01 L203.45 169.46 L204.75 168.92 L206.05 168.36 L207.34 167.80 L208.64 167.24 L209.94 166.67 L211.23 166.09 L212.53 165.51 L213.83 164.93 L215.13 164.34 L216.42 163.75 L217.72 163.16 L219.02 162.57 L220.32 161.99 L221.61 161.40 L222.91 160.81 L224.21 160.22 L225.50 159.62 L226.80 159.02 L228.10 158.41 L229.40 157.79 L230.69 157.16 L231.99 156.53 L233.29 155.88 L234.59 155.22 L235.88 154.55 L237.18 153.87 L238.48 153.17 L239.77 152.45 L241.07 151.72 L242.37 150.98 L243.67 150.23 L244.96 149.47 L246.26 148.71 L247.56 147.94 L248.85 147.15 L250.15 146.36 L251.45 145.57 L252.75 144.76 L254.04 143.95 L255.34 143.13 L256.64 142.31 L257.94 141.47 L259.23 140.63 L260.53 139.78 L261.83 138.93 L263.12 138.07 L264.42 137.20 L265.72 136.33 L267.02 135.45 L268.31 134.56 L269.61 133.67 L270.91 132.77 L272.21 131.85 L273.50 130.94 L274.80 130.01 L276.10 129.08 L277.39 128.14 L278.69 127.19 L279.99 126.24 L281.29 125.28 L282.58 124.32 L283.88 123.36 L285.18 122.39 L286.47 121.41 L287.77 120.43 L289.07 119.45 L290.37 118.46 L291.66 117.46 L292.96 116.46 L294.26 115.45 L295.56 114.43 L296.85 113.42 L298.15 112.39 L299.45 111.36 L300.74 110.32 L302.04 109.28 L303.34 108.22 L304.64 107.17 L305.93 106.10 L307.23 105.03 L308.53 103.96 L309.83 102.88 L311.12 101.79 L312.42 100.70 L313.72 99.61 L315.01 98.52 L316.31 97.42 L317.61 96.32 L318.91 95.22 L320.20 94.12 L321.50 93.02 L322.80 91.91 L324.09 90.79 L325.39 89.68 L326.69 88.55 L327.99 87.43 L329.28 86.30 L330.58 85.16 L331.88 84.02 L333.18 82.88 L334.47 81.74 L335.77 80.59 L337.07 79.45 L338.36 78.33 L339.66 77.20 L340.96 76.08 L342.26 74.96 L343.55 73.84 L344.85 72.70 L346.15 71.56 L347.45 70.39 L348.74 69.22 L350.04 68.03 L351.34 66.85 L352.63 65.66 L353.93 64.48 L355.23 63.29 L356.53 62.09 L357.82 60.90 L359.12 59.71 L360.42 58.51 L361.71 57.32 L363.01 56.12 L364.31 54.92 L365.61 53.73 L366.90 52.53 L368.20 51.33 L369.50 50.13 L370.80 48.93 L372.09 47.74 L373.39 46.54 L374.69 45.34 L375.98 44.15 L377.28 42.95 L378.58 41.76 L379.88 40.57 L381.17 39.38 L382.47 38.19 L383.77 37.01 L385.07 35.82 L386.36 34.64 L387.66 33.46 L388.96 32.29 L390.25 31.11 L391.55 29.95 L392.85 28.78 L394.15 27.62 L395.44 26.46 L396.74 25.31 L398.04 24.16 L399.34 23.01 L400.63 21.87 L401.93 20.74 L403.23 19.61 L404.52 18.49" stroke="#0000ff" stroke-width="1.35" stroke-dasharray="14.41 2" stroke-dashoffset="12.21"/>
<path d="M68.54 200.42 L69.84 200.25 L71.13 200.07 L72.43 199.89 L73.73 199.71 L75.02 199.52 L76.32 199.33 L77.62 199.14 L78.92 198.95 L80.21 198.75 L81.51 198.54 L82.81 198.34 L84.10 198.12 L85.40 197.91 L86.70 197.69 L88.00 197.47 L89.29 197.25 L90.59 197.02 L91.89 196.78 L93.19 196.55 L94.48 196.31 L95.78 196.06 L97.08 195.81 L98.37 195.56 L99.67 195.30 L100.97 195.04 L102.27 194.78 L103.56 194.51 L104.86 194.23 L106.16 193.95 L107.46 193.67 L108.75 193.38 L110.05 193.09 L111.35 192.79 L112.64 192.49 L113.94 192.19 L115.24 191.88 L116.54 191.56 L117.83 191.24 L119.13 190.91 L120.43 190.58 L121.72 190.25 L123.02 189.91 L124.32 189.56 L125.62 189.21 L126.91 188.85 L128.21 188.49 L129.51 188.12 L130.81 187.75 L132.10 187.37 L133.40 186.99 L134.70 186.60 L135.99 186.21 L137.29 185.81 L138.59 185.40 L139.89 184.99 L141.18 184.57 L142.48 184.15 L143.78 183.72 L145.08 183.28 L146.37 182.84 L147.67 182.39 L148.97 181.94 L150.26 181.48 L151.56 181.01 L152.86 180.54 L154.16 180.06 L155.45 179.58 L156.75 179.08 L158.05 178.59 L159.35 178.08 L160.64 177.57 L161.94 177.05 L163.24 176.53 L164.53 176.00 L165.83 175.46 L167.13 174.92 L168.43 174.37 L169.72 173.81 L171.02 173.24 L172.32 172.67 L173.61 172.09 L174.91 171.50 L176.21 170.91 L177.51 170.31 L178.80 169.70 L180.10 169.09 L181.40 168.47 L182.70 167.84 L183.99 167.20 L185.29 166.56 L186.59 165.91 L187.88 165.25 L189.18 164.58 L190.48 163.91 L191.78 163.24 L193.07 162.56 L194.37 161.89 L195.67 161.22 L196.97 160.54 L198.26 159.86 L199.56 159.17 L200.86 158.48 L202.15 157.79 L203.45 157.08 L204.75 156.37 L206.05 155.65 L207.34 154.91 L208.64 154.17 L209.94 153.41 L211.23 152.64 L212.53 151.85 L213.83 151.05 L215.13 150.23 L216.42 149.40 L217.72 148.56 L219.02 147.71 L220.32 146.86 L221.61 145.99 L222.91 145.12 L224.21 144.24 L225.50 143.35 L226.80 142.45 L228.10 141.54 L229.40 140.63 L230.69 139.70 L231.99 138.77 L233.29 137.83 L234.59 136.88 L235.88 135.92 L237.18 134.95 L238.48 133.97 L239.77 132.99 L241.07 131.99 L242.37 130.99 L243.67 129.98 L244.96 128.95 L246.26 127.91 L247.56 126.85 L248.85 125.75 L250.15 124.64 L251.45 123.51 L252.75 122.37 L254.04 121.21 L255.34 120.05 L256.64 118.88 L257.94 117.71 L259.23 116.54 L260.53 115.37 L261.83 114.22 L263.12 113.06 L264.42 111.90 L265.72 110.72 L267.02 109.54 L268.31 108.34 L269.61 107.13 L270.91 105.92 L272.21 104.69 L273.50 103.45 L274.80 102.20 L276.10 100.94 L277.39 99.67 L278.69 98.39 L279.99 97.10 L281.29 95.79 L282.58 94.48 L283.88 93.15 L285.18 91.81 L286.47 90.46 L287.77 89.10 L289.07 87.72 L290.37 86.33 L291.66 84.93 L292.96 83.52 L294.26 82.10 L295.56 80.66 L296.85 79.21 L298.15 77.74 L299.45 76.26 L300.74 74.77 L302.04 73.26 L303.34 71.74 L304.64 70.21 L305.93 68.66 L307.23 67.09 L308.53 65.51 L309.83 63.92 L311.12 62.31 L312.42 60.68 L313.72 59.04 L315.01 57.38 L316.31 55.70 L317.61 54.01 L318.91 52.30 L320.20 50.57 L321.50 48.82 L322.80 47.06 L324.09 45.28 L325.39 43.47 L326.69 41.65 L327.99 39.81 L329.28 37.95 L330.58 36.06 L331.88 34.18 L333.18 32.30 L334.47 30.41 L335.77 28.52 L337.07 26.61 L338.36 24.69 L339.66 22.75 L340.96 20.79 L342.26 18.80 L343.55 16.78 L344.85 14.72 L346.15 12.63 L347.45 10.49 L348.74 8.32 L350.04 6.12 L351.34 3.89 L352.63 1.63 L353.93 -0.66 L355.23 -2.99 L356.53 -5.36 L357.82 -7.76 L359.12 -10.19 L360.42 -12.68 L361.71 -15.23 L363.01 -17.81 L364.31 -20.44 L365.61 -23.10 L366.90 -25.80 L368.20 -28.54 L369.50 -31.32 L370.80 -34.15 L372.09 -37.02 L373.39 -39.93 L374.69 -42.89 L375.98 -45.90 L377.28 -48.96 L378.58 -52.07 L379.88 -55.22 L381.17 -58.43 L382.47 -61.70 L383.77 -65.02 L385.07 -68.40 L386.36 -71.83 L387.66 -75.33 L388.96 -78.88 L390.25 -82.50 L391.55 -86.19 L392.85 -89.94 L394.15 -93.77 L395.44 -97.66 L396.74 -101.62 L398.04 -105.67 L399.34 -109.78 L400.63 -113.98 L401.93 -118.26 L403.23 -122.62 L404.52 -127.07 L404.52 -41.63 L403.23 -39.97 L401.93 -38.31 L400.63 -36.66 L399.34 -35.01 L398.04 -33.36 L396.74 -31.72 L395.44 -30.07 L394.15 -28.43 L392.85 -26.80 L391.55 -25.16 L390.25 -23.53 L388.96 -21.90 L387.66 -20.27 L386.36 -18.65 L385.07 -17.03 L383.77 -15.41 L382.47 -13.79 L381.17 -12.18 L379.88 -10.57 L378.58 -8.96 L377.28 -7.36 L375.98 -5.76 L374.69 -4.16 L373.39 -2.56 L372.09 -0.97 L370.80 0.61 L369.50 2.17 L368.20 3.73 L366.90 5.28 L365.61 6.83 L364.31 8.36 L363.01 9.90 L361.71 11.42 L360.42 12.94 L359.12 14.46 L357.82 15.95 L356.53 17.43 L355.23 18.89 L353.93 20.34 L352.63 21.78 L351.34 23.21 L350.04 24.63 L348.74 26.04 L347.45 27.45 L346.15 28.86 L344.85 30.27 L343.55 31.68 L342.26 33.09 L340.96 34.50 L339.66 35.92 L338.36 37.36 L337.07 38.80 L335.77 40.25 L334.47 41.71 L333.18 43.19 L331.88 44.67 L330.58 46.14 L329.28 47.60 L327.99 49.06 L326.69 50.51 L325.39 51.96 L324.09 53.41 L322.80 54.85 L321.50 56.28 L320.20 57.71 L318.91 59.13 L317.61 60.55 L316.31 61.96 L315.01 63.37 L313.72 64.77 L312.42 66.16 L311.12 67.55 L309.83 68.93 L308.53 70.31 L307.23 71.68 L305.93 73.04 L304.64 74.40 L303.34 75.75 L302.04 77.09 L300.74 78.43 L299.45 79.76 L298.15 81.09 L296.85 82.41 L295.56 83.72 L294.26 85.03 L292.96 86.33 L291.66 87.62 L290.37 88.90 L289.07 90.18 L287.77 91.45 L286.47 92.72 L285.18 93.97 L283.88 95.22 L282.58 96.46 L281.29 97.70 L279.99 98.93 L278.69 100.15 L277.39 101.36 L276.10 102.57 L274.80 103.76 L273.50 104.95 L272.21 106.14 L270.91 107.31 L269.61 108.48 L268.31 109.64 L267.02 110.79 L265.72 111.94 L264.42 113.07 L263.12 114.20 L261.83 115.32 L260.53 116.45 L259.23 117.58 L257.94 118.72 L256.64 119.87 L255.34 121.01 L254.04 122.15 L252.75 123.29 L251.45 124.41 L250.15 125.52 L248.85 126.61 L247.56 127.69 L246.26 128.74 L244.96 129.76 L243.67 130.77 L242.37 131.77 L241.07 132.76 L239.77 133.75 L238.48 134.72 L237.18 135.69 L235.88 136.65 L234.59 137.60 L233.29 138.54 L231.99 139.47 L230.69 140.40 L229.40 141.31 L228.10 142.22 L226.80 143.12 L225.50 144.02 L224.21 144.90 L222.91 145.78 L221.61 146.65 L220.32 147.51 L219.02 148.36 L217.72 149.20 L216.42 150.04 L215.13 150.86 L213.83 151.68 L212.53 152.48 L211.23 153.26 L209.94 154.03 L208.64 154.78 L207.34 155.52 L206.05 156.25 L204.75 156.97 L203.45 157.68 L202.15 158.38 L200.86 159.07 L199.56 159.76 L198.26 160.44 L196.97 161.11 L195.67 161.79 L194.37 162.46 L193.07 163.12 L191.78 163.79 L190.48 164.46 L189.18 165.13 L187.88 165.79 L186.59 166.45 L185.29 167.09 L183.99 167.73 L182.70 168.36 L181.40 168.99 L180.10 169.60 L178.80 170.21 L177.51 170.82 L176.21 171.41 L174.91 172.00 L173.61 172.58 L172.32 173.16 L171.02 173.72 L169.72 174.28 L168.43 174.84 L167.13 175.38 L165.83 175.92 L164.53 176.46 L163.24 176.98 L161.94 177.50 L160.64 178.01 L159.35 178.52 L158.05 179.02 L156.75 179.51 L155.45 180.00 L154.16 180.48 L152.86 180.95 L151.56 181.42 L150.26 181.88 L148.97 182.34 L147.67 182.79 L146.37 183.23 L145.08 183.67 L143.78 184.10 L142.48 184.52 L141.18 184.94 L139.89 185.36 L138.59 185.76 L137.29 186.17 L135.99 186.56 L134.70 186.95 L133.40 187.34 L132.10 187.72 L130.81 188.09 L129.51 188.46 L128.21 188.83 L126.91 189.18 L125.62 189.54 L124.32 189.89 L123.02 190.23 L121.72 190.57 L120.43 190.90 L119.13 191.23 L117.83 191.55 L116.54 191.87 L115.24 192.18 L113.94 192.49 L112.64 192.80 L111.35 193.10 L110.05 193.39 L108.75 193.68 L107.46 193.97 L106.16 194.25 L104.86 194.53 L103.56 194.80 L102.27 195.07 L100.97 195.34 L99.67 195.60 L98.37 195.86 L97.08 196.11 L95.78 196.36 L94.48 196.60 L93.19 196.84 L91.89 197.08 L90.59 197.31 L89.29 197.54 L88.00 197.77 L86.70 197.99 L85.40 198.21 L84.10 198.43 L82.81 198.64 L81.51 198.84 L80.21 199.05 L78.92 199.25 L77.62 199.45 L76.32 199.64 L75.02 199.84 L73.73 200.02 L72.43 200.21 L71.13 200.39 L69.84 200.57 L68.54 200.75 Z" fill="#ffcccc" stroke="none"/>
<path d="M68.54 200.42 L69.84 200.25 L71.13 200.07 L72.43 199.89 L73.73 199.71 L75.02 199.52 L76.32 199.33 L77.62 199.14 L78.92 198.95 L80.21 198.75 L81.51 198.54 L82.81 198.34 L84.10 198.12 L85.40 197.91 L86.70 197.69 L88.00 197.47 L89.29 197.25 L90.59 197.02 L91.89 196.78 L93.19 196.55 L94.48 196.31 L95.78 196.06 L97.08 195.81 L98.37 195.56 L99.67 195.30 L100.97 195.04 L102.27 194.78 L103.56 194.51 L104.86 194.23 L106.16 193.95 L107.46 193.67 L108.75 193.38 L110.05 193.09 L111.35 192.79 L112.64 192.49 L113.94 192.19 L115.24 191.88 L116.54 191.56 L117.83 191.24 L119.13 190.91 L120.43 190.58 L121.72 190.25 L123.02 189.91 L124.32 189.56 L125.62 189.21 L126.91 188.85 L128.21 188.49 L129.51 188.12 L130.81 187.75 L132.10 187.37 L133.40 186.99 L134.70 186.60 L135.99 186.21 L137.29 185.81 L138.59 185.40 L139.89 184.99 L141.18 184.57 L142.48 184.15 L143.78 183.72 L145.08 183.28 L146.37 182.84 L147.67 182.39 L148.97 181.94 L150.26 181.48 L151.56 181.01 L152.86 180.54 L154.16 180.06 L155.45 179.58 L156.75 179.08 L158.05 178.59 L159.35 178.08 L160.64 177.57 L161.94 177.05 L163.24 176.53 L164.53 176.00 L165.83 175.46 L167.13 174.92 L168.43 174.37 L169.72 173.81 L171.02 173.24 L172.32 172.67 L173.61 172.09 L174.91 171.50 L176.21 170.91 L177.51 170.31 L178.80 169.70 L180.10 169.09 L181.40 168.47 L182.70 167.84 L183.99 167.20 L185.29 166.56 L186.59 165.91 L187.88 165.25 L189.18 164.58 L190.48 163.91 L191.78 163.24 L193.07 162.56 L194.37 161.89 L195.67 161.22 L196.97 160.54 L198.26 159.86 L199.56 159.17 L200.86 158.48 L202.15 157.79 L203.45 157.08 L204.75 156.37 L206.05 155.65 L207.34 154.91 L208.64 154.17 L209.94 153.41 L211.23 152.64 L212.53 151.85 L213.83 151.05 L215.13 150.23 L216.42 149.40 L217.72 148.56 L219.02 147.71 L220.32 146.86 L221.61 145.99 L222.91 145.12 L224.21 144.24 L225.50 143.35 L226.80 142.45 L228.10 141.54 L229.40 140.63 L230.69 139.70 L231.99 138.77 L233.29 137.83 L234.59 136.88 L235.88 135.92 L237.18 134.95 L238.48 133.97 L239.77 132.99 L241.07 131.99 L242.37 130.99 L243.67 129.98 L244.96 128.95 L246.26 127.91 L247.56 126.85 L248.85 125.75 L250.15 124.64 L251.45 123.51 L252.75 122.37 L254.04 121.21 L255.34 120.05 L256.64 118.88 L257.94 117.71 L259.23 116.54 L260.53 115.37 L261.83 114.22 L263.12 113.06 L264.42 111.90 L265.72 110.72 L267.02 109.54 L268.31 108.34 L269.61 107.13 L270.91 105.92 L272.21 104.69 L273.50 103.45 L274.80 102.20 L276.10 100.94 L277.39 99.67 L278.69 98.39 L279.99 97.10 L281.29 95.79 L282.58 94.48 L283.88 93.15 L285.18 91.81 L286.47 90.46 L287.77 89.10 L289.07 87.72 L290.37 86.33 L291.66 84.93 L292.96 83.52 L294.26 82.10 L295.56 80.66 L296.85 79.21 L298.15 77.74 L299.45 76.26 L300.74 74.77 L302.04 73.26 L303.34 71.74 L304.64 70.21 L305.93 68.66 L307.23 67.09 L308.53 65.51 L309.83 63.92 L311.12 62.31 L312.42 60.68 L313.72 59.04 L315.01 57.38 L316.31 55.70 L317.61 54.01 L318.91 52.30 L320.20 50.57 L321.50 48.82 L322.80 47.06 L324.09 45.28 L325.39 43.47 L326.69 41.65 L327.99 39.81 L329.28 37.95 L330.58 36.06 L331.88 34.18 L333.18 32.30 L334.47 30.41 L335.77 28.52 L337.07 26.61 L338.36 24.69 L339.66 22.75 L340.96 20.79 L342.26 18.80 L343.55 16.78 L344.85 14.72 L346.15 12.63 L347.45 10.49 L348.74 8.32 L350.04 6.12 L351.34 3.89 L352.63 1.63 L353.93 -0.66 L355.23 -2.99 L356.53 -5.36 L357.82 -7.76 L359.12 -10.19 L360.42 -12.68 L361.71 -15.23 L363.01 -17.81 L364.31 -20.44 L365.61 -23.10 L366.90 -25.80 L368.20 -28.54 L369.50 -31.32 L370.80 -34.15 L372.09 -37.02 L373.39 -39.93 L374.69 -42.89 L375.98 -45.90 L377.28 -48.96 L378.58 -52.07 L379.88 -55.22 L381.17 -58.43 L382.47 -61.70 L383.77 -65.02 L385.07 -68.40 L386.36 -71.83 L387.66 -75.33 L388.96 -78.88 L390.25 -82.50 L391.55 -86.19 L392.85 -89.94 L394.15 -93.77 L395.44 -97.66 L396.74 -101.62 L398.04 -105.67 L399.34 -109.78 L400.63 -113.98 L401.93 -118.26 L403.23 -122.62 L404.52 -127.07" stroke="#ff0000" stroke-width="1.35" stroke-dasharray="4.1 1.4" stroke-dashoffset="0"/>
<path d="M68.54 200.75 L69.84 200.57 L71.13 200.39 L72.43 200.21 L73.73 200.02 L75.02 199.84 L76.32 199.64 L77.62 199.45 L78.92 199.25 L80.21 199.05 L81.51 198.84 L82.81 198.64 L84.10 198.43 L85.40 198.21 L86.70 197.99 L88.00 197.77 L89.29 197.54 L90.59 197.31 L91.89 197.08 L93.19 196.84 L94.48 196.60 L95.78 196.36 L97.08 196.11 L98.37 195.86 L99.67 195.60 L100.97 195.34 L102.27 195.07 L103.56 194.80 L104.86 194.53 L106.16 194.25 L107.46 193.97 L108.75 193.68 L110.05 193.39 L111.35 193.10 L112.64 192.80 L113.94 192.49 L115.24 192.18 L116.54 191.87 L117.83 191.55 L119.13 191.23 L120.43 190.90 L121.72 190.57 L123.02 190.23 L124.32 189.89 L125.62 189.54 L126.91 189.18 L128.21 188.83 L129.51 188.46 L130.81 188.09 L132.10 187.72 L133.40 187.34 L134.70 186.95 L135.99 186.56 L137.29 186.17 L138.59 185.76 L139.89 185.36 L141.18 184.94 L142.48 184.52 L143.78 184.10 L145.08 183.67 L146.37 183.23 L147.67 182.79 L148.97 182.34 L150.26 181.88 L151.56 181.42 L152.86 180.95 L154.16 180.48 L155.45 180.00 L156.75 179.51 L158.05 179.02 L159.35 178.52 L160.64 178.01 L161.94 177.50 L163.24 176.98 L164.53 176.46 L165.83 175.92 L167.13 175.38 L168.43 174.84 L169.72 174.28 L171.02 173.72 L172.32 173.16 L173.61 172.58 L174.91 172.00 L176.21 171.41 L177.51 170.82 L178.80 170.21 L180.10 169.60 L181.40 168.99 L182.70 168.36 L183.99 167.73 L185.29 167.09 L186.59 166.45 L187.88 165.79 L189.18 165.13 L190.48 164.46 L191.78 163.79 L193.07 163.12 L194.37 162.46 L195.67 161.79 L196.97 161.11 L198.26 160.44 L199.56 159.76 L200.86 159.07 L202.15 158.38 L203.45 157.68 L204.75 156.97 L206.05 156.25 L207.34 155.52 L208.64 154.78 L209.94 154.03 L211.23 153.26 L212.53 152.48 L213.83 151.68 L215.13 150.86 L216.42 150.04 L217.72 149.20 L219.02 148.36 L220.32 147.51 L221.61 146.65 L222.91 145.78 L224.21 144.90 L225.50 144.02 L226.80 143.12 L228.10 142.22 L229.40 141.31 L230.69 140.40 L231.99 139.47 L233.29 138.54 L234.59 137.60 L235.88 136.65 L237.18 135.69 L238.48 134.72 L239.77 133.75 L241.07 132.76 L242.37 131.77 L243.67 130.77 L244.96 129.76 L246.26 128.74 L247.56 127.69 L248.85 126.61 L250.15 125.52 L251.45 124.41 L252.75 123.29 L254.04 122.15 L255.34 121.01 L256.64 119.87 L257.94 118.72 L259.23 117.58 L260.53 116.45 L261.83 115.32 L263.12 114.20 L264.42 113.07 L265.72 111.94 L267.02 110.79 L268.31 109.64 L269.61 108.48 L270.91 107.31 L272.21 106.14 L273.50 104.95 L274.80 103.76 L276.10 102.57 L277.39 101.36 L278.69 100.15 L279.99 98.93 L281.29 97.70 L282.58 96.46 L283.88 95.22 L285.18 93.97 L286.47 92.72 L287.77 91.45 L289.07 90.18 L290.37 88.90 L291.66 87.62 L292.96 86.33 L294.26 85.03 L295.56 83.72 L296.85 82.41 L298.15 81.09 L299.45 79.76 L300.74 78.43 L302.04 77.09 L303.34 75.75 L304.64 74.40 L305.93 73.04 L307.23 71.68 L308.53 70.31 L309.83 68.93 L311.12 67.55 L312.42 66.16 L313.72 64.77 L315.01 63.37 L316.31 61.96 L317.61 60.55 L318.91 59.13 L320.20 57.71 L321.50 56.28 L322.80 54.85 L324.09 53.41 L325.39 51.96 L326.69 50.51 L327.99 49.06 L329.28 47.60 L330.58 46.14 L331.88 44.67 L333.18 43.19 L334.47 41.71 L335.77 40.25 L337.07 38.80 L338.36 37.36 L339.66 35.92 L340.96 34.50 L342.26 33.09 L343.55 31.68 L344.85 30.27 L346.15 28.86 L347.45 27.45 L348.74 26.04 L350.04 24.63 L351.34 23.21 L352.63 21.78 L353.93 20.34 L355.23 18.89 L356.53 17.43 L357.82 15.95 L359.12 14.46 L360.42 12.94 L361.71 11.42 L363.01 9.90 L364.31 8.36 L365.61 6.83 L366.90 5.28 L368.20 3.73 L369.50 2.17 L370.80 0.61 L372.09 -0.97 L373.39 -2.56 L374.69 -4.16 L375.98 -5.76 L377.28 -7.36 L378.58 -8.96 L379.88 -10.57 L381.17 -12.18 L382.47 -13.79 L383.77 -15.41 L385.07 -17.03 L386.36 -18.65 L387.66 -20.27 L388.96 -21.90 L390.25 -23.53 L391.55 -25.16 L392.85 -26.80 L394.15 -28.43 L395.44 -30.07 L396.74 -31.72 L398.04 -33.36 L399.34 -35.01 L400.63 -36.66 L401.93 -38.31 L403.23 -39.97 L404.52 -41.63" stroke="#ff0000" stroke-width="1.35" stroke-dasharray="4.1 1.4" stroke-dashoffset="0"/>
</g>
<g stroke="#000" stroke-width="1.15" fill="#000">
<path d="M136.80 189.70 V195.90 M134.90 189.70 H138.70 M134.90 195.90 H138.70" fill="none"/>
<circle cx="136.80" cy="192.80" r="2.15" stroke="none"/>
<path d="M169.45 175.30 V183.50 M167.55 175.30 H171.35 M167.55 183.50 H171.35" fill="none"/>
<circle cx="169.45" cy="179.40" r="2.15" stroke="none"/>
<path d="M202.10 156.20 V166.00 M200.20 156.20 H204.00 M200.20 166.00 H204.00" fill="none"/>
<circle cx="202.10" cy="161.10" r="2.15" stroke="none"/>
<path d="M234.75 142.30 V154.30 M232.85 142.30 H236.65 M232.85 154.30 H236.65" fill="none"/>
<circle cx="234.75" cy="148.30" r="2.15" stroke="none"/>
<path d="M267.40 122.40 V134.00 M265.50 122.40 H269.30 M265.50 134.00 H269.30" fill="none"/>
<circle cx="267.40" cy="128.20" r="2.15" stroke="none"/>
<path d="M300.05 88.50 V100.50 M298.15 88.50 H301.95 M298.15 100.50 H301.95" fill="none"/>
<circle cx="300.05" cy="94.50" r="2.15" stroke="none"/>
<path d="M332.70 59.00 V70.80 M330.80 59.00 H334.60 M330.80 70.80 H334.60" fill="none"/>
<circle cx="332.70" cy="64.90" r="2.15" stroke="none"/>
<path d="M365.35 42.00 V53.80 M363.45 42.00 H367.25 M363.45 53.80 H367.25" fill="none"/>
<circle cx="365.35" cy="47.90" r="2.15" stroke="none"/>
</g>
<g stroke="#000" fill="none">
<rect x="71.50" y="9.00" width="326.50" height="201.95" stroke-width="1.50"/>
<path d="M78.03 210.95 v-2.40 M78.03 9.00 v2.40 M91.09 210.95 v-2.40 M91.09 9.00 v2.40 M104.15 210.95 v-4.00 M104.15 9.00 v4.00 M117.21 210.95 v-2.40 M117.21 9.00 v2.40 M130.27 210.95 v-2.40 M130.27 9.00 v2.40 M143.33 210.95 v-2.40 M143.33 9.00 v2.40 M156.39 210.95 v-2.40 M156.39 9.00 v2.40 M169.45 210.95 v-4.00 M169.45 9.00 v4.00 M182.51 210.95 v-2.40 M182.51 9.00 v2.40 M195.57 210.95 v-2.40 M195.57 9.00 v2.40 M208.63 210.95 v-2.40 M208.63 9.00 v2.40 M221.69 210.95 v-2.40 M221.69 9.00 v2.40 M234.75 210.95 v-4.00 M234.75 9.00 v4.00 M247.81 210.95 v-2.40 M247.81 9.00 v2.40 M260.87 210.95 v-2.40 M260.87 9.00 v2.40 M273.93 210.95 v-2.40 M273.93 9.00 v2.40 M286.99 210.95 v-2.40 M286.99 9.00 v2.40 M300.05 210.95 v-4.00 M300.05 9.00 v4.00 M313.11 210.95 v-2.40 M313.11 9.00 v2.40 M326.17 210.95 v-2.40 M326.17 9.00 v2.40 M339.23 210.95 v-2.40 M339.23 9.00 v2.40 M352.29 210.95 v-2.40 M352.29 9.00 v2.40 M365.35 210.95 v-4.00 M365.35 9.00 v4.00 M378.41 210.95 v-2.40 M378.41 9.00 v2.40 M391.47 210.95 v-2.40 M391.47 9.00 v2.40 M71.50 202.87 h2.40 M398.00 202.87 h-2.40 M71.50 194.79 h2.40 M398.00 194.79 h-2.40 M71.50 186.72 h2.40 M398.00 186.72 h-2.40 M71.50 178.64 h2.40 M398.00 178.64 h-2.40 M71.50 170.56 h4.00 M398.00 170.56 h-4.00 M71.50 162.48 h2.40 M398.00 162.48 h-2.40 M71.50 154.40 h2.40 M398.00 154.40 h-2.40 M71.50 146.33 h2.40 M398.00 146.33 h-2.40 M71.50 138.25 h2.40 M398.00 138.25 h-2.40 M71.50 130.17 h4.00 M398.00 130.17 h-4.00 M71.50 122.09 h2.40 M398.00 122.09 h-2.40 M71.50 114.01 h2.40 M398.00 114.01 h-2.40 M71.50 105.94 h2.40 M398.00 105.94 h-2.40 M71.50 97.86 h2.40 M398.00 97.86 h-2.40 M71.50 89.78 h4.00 M398.00 89.78 h-4.00 M71.50 81.70 h2.40 M398.00 81.70 h-2.40 M71.50 73.62 h2.40 M398.00 73.62 h-2.40 M71.50 65.55 h2.40 M398.00 65.55 h-2.40 M71.50 57.47 h2.40 M398.00 57.47 h-2.40 M71.50 49.39 h4.00 M398.00 49.39 h-4.00 M71.50 41.31 h2.40 M398.00 41.31 h-2.40 M71.50 33.23 h2.40 M398.00 33.23 h-2.40 M71.50 25.16 h2.40 M398.00 25.16 h-2.40 M71.50 17.08 h2.40 M398.00 17.08 h-2.40" stroke-width="1.3"/>
</g>
<g font-size="16px">
<text x="68.9" y="217.05" text-anchor="end" font-size="16.3px">0.000</text>
<text x="68.9" y="176.66" text-anchor="end" font-size="16.3px">0.005</text>
<text x="68.9" y="136.27" text-anchor="end" font-size="16.3px">0.010</text>
<text x="68.9" y="95.88" text-anchor="end" font-size="16.3px">0.015</text>
<text x="68.9" y="55.49" text-anchor="end" font-size="16.3px">0.020</text>
<text x="68.9" y="15.10" text-anchor="end" font-size="16.3px">0.025</text>
<text x="104.15" y="228.4" text-anchor="middle">130</text>
<text x="169.45" y="228.4" text-anchor="middle">140</text>
<text x="234.75" y="228.4" text-anchor="middle">150</text>
<text x="300.05" y="228.4" text-anchor="middle">160</text>
<text x="365.35" y="228.4" text-anchor="middle">170</text>
<text x="235" y="252.2" text-anchor="middle" font-size="16.5px">T [MeV]</text>
</g>
<g transform="rotate(-90)">
<text transform="translate(-127.5 17.6) scale(1.18 1)" font-size="17.2px">χ</text>
<text x="-117.7" y="22.1" font-size="12px" textLength="18.6" lengthAdjust="spacingAndGlyphs">211</text>
<text x="-117.2" y="9.6" font-size="12.3px" textLength="24.6" lengthAdjust="spacingAndGlyphs">BQS</text>
</g>
<g fill="none" stroke-width="1.45">
<path d="M86.8 33.90 H114.8" stroke="#6a6a6a"/>
<path d="M86.7 50.80 H114" stroke="#505050" stroke-dasharray="4.3 1.2"/>
<path d="M86.7 67.80 H114" stroke="#0000ff" stroke-dasharray="4.3 1.2"/>
<path d="M86.7 84.80 H114" stroke="#ff0000" stroke-dasharray="4.3 1.2"/>
</g>
<circle cx="101.3" cy="101.80" r="1.7" fill="#000"/>
<text x="118.40" y="36.75" font-size="9.80px" textLength="38.80" lengthAdjust="spacingAndGlyphs" fill="#111">PDG2016</text>
<text x="158.90" y="36.75" font-size="9.80px" textLength="8.80" lengthAdjust="spacingAndGlyphs" fill="#111">(b</text>
<text x="168.40" y="36.75" font-size="9.80px" textLength="5.50" lengthAdjust="spacingAndGlyphs" fill="#111">=</text>
<text x="175.80" y="36.75" font-size="9.80px" textLength="7.40" lengthAdjust="spacingAndGlyphs" fill="#111">0)</text>
<text x="118.40" y="53.75" font-size="9.80px" textLength="38.80" lengthAdjust="spacingAndGlyphs" fill="#111">PDG2016</text>
<text x="158.90" y="53.75" font-size="9.80px" textLength="8.80" lengthAdjust="spacingAndGlyphs" fill="#111">(b</text>
<text x="168.40" y="53.75" font-size="9.80px" textLength="5.50" lengthAdjust="spacingAndGlyphs" fill="#111">=</text>
<text x="175.80" y="53.75" font-size="9.80px" textLength="11.90" lengthAdjust="spacingAndGlyphs" fill="#111">0.4</text>
<text x="188.90" y="53.75" font-size="9.80px" textLength="5.40" lengthAdjust="spacingAndGlyphs" fill="#111">–</text>
<text x="196.10" y="53.75" font-size="9.80px" textLength="2.80" lengthAdjust="spacingAndGlyphs" fill="#111">1</text>
<text x="201.60" y="53.75" font-size="9.80px" textLength="11.10" lengthAdjust="spacingAndGlyphs" fill="#111">fm</text>
<text x="212.60" y="50.75" font-size="7.00px" textLength="3.40" lengthAdjust="spacingAndGlyphs" fill="#111">3</text>
<text x="216.30" y="53.75" font-size="9.80px" textLength="2.60" lengthAdjust="spacingAndGlyphs" fill="#111">)</text>
<text x="118.40" y="70.75" font-size="9.80px" textLength="44.30" lengthAdjust="spacingAndGlyphs" fill="#111">PDG2016+</text>
<text x="167.65" y="70.75" font-size="9.80px" textLength="8.80" lengthAdjust="spacingAndGlyphs" fill="#111">(b</text>
<text x="177.15" y="70.75" font-size="9.80px" textLength="5.50" lengthAdjust="spacingAndGlyphs" fill="#111">=</text>
<text x="184.55" y="70.75" font-size="9.80px" textLength="11.90" lengthAdjust="spacingAndGlyphs" fill="#111">0.4</text>
<text x="197.65" y="70.75" font-size="9.80px" textLength="5.40" lengthAdjust="spacingAndGlyphs" fill="#111">–</text>
<text x="204.85" y="70.75" font-size="9.80px" textLength="2.80" lengthAdjust="spacingAndGlyphs" fill="#111">1</text>
<text x="210.35" y="70.75" font-size="9.80px" textLength="11.10" lengthAdjust="spacingAndGlyphs" fill="#111">fm</text>
<text x="221.35" y="67.75" font-size="7.00px" textLength="3.40" lengthAdjust="spacingAndGlyphs" fill="#111">3</text>
<text x="225.05" y="70.75" font-size="9.80px" textLength="2.60" lengthAdjust="spacingAndGlyphs" fill="#111">)</text>
<text x="118.10" y="87.75" font-size="9.80px" textLength="26.80" lengthAdjust="spacingAndGlyphs" fill="#111">Quark</text>
<text x="148.10" y="87.75" font-size="9.80px" textLength="25.80" lengthAdjust="spacingAndGlyphs" fill="#111">model</text>
<text x="177.60" y="87.75" font-size="9.80px" textLength="8.80" lengthAdjust="spacingAndGlyphs" fill="#111">(b</text>
<text x="187.10" y="87.75" font-size="9.80px" textLength="5.50" lengthAdjust="spacingAndGlyphs" fill="#111">=</text>
<text x="194.50" y="87.75" font-size="9.80px" textLength="11.90" lengthAdjust="spacingAndGlyphs" fill="#111">0.4</text>
<text x="207.60" y="87.75" font-size="9.80px" textLength="5.40" lengthAdjust="spacingAndGlyphs" fill="#111">–</text>
<text x="214.80" y="87.75" font-size="9.80px" textLength="2.80" lengthAdjust="spacingAndGlyphs" fill="#111">1</text>
<text x="220.30" y="87.75" font-size="9.80px" textLength="11.10" lengthAdjust="spacingAndGlyphs" fill="#111">fm</text>
<text x="231.30" y="84.75" font-size="7.00px" textLength="3.40" lengthAdjust="spacingAndGlyphs" fill="#111">3</text>
<text x="235.00" y="87.75" font-size="9.80px" textLength="2.60" lengthAdjust="spacingAndGlyphs" fill="#111">)</text>
<text x="117.90" y="104.75" font-size="9.80px" textLength="14.30" lengthAdjust="spacingAndGlyphs" fill="#111">WB</text>
<text x="135.00" y="104.75" font-size="9.80px" textLength="48.20" lengthAdjust="spacingAndGlyphs" fill="#111">1805.04445</text>
</svg></body></html>
